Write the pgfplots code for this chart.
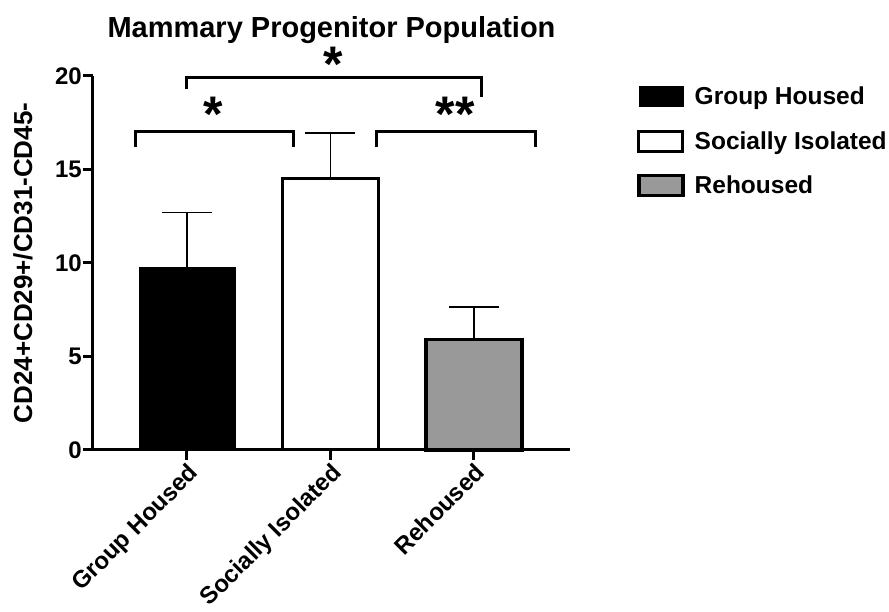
\documentclass[border=0pt]{standalone}
\usepackage{pgfplots}
\pgfplotsset{compat=1.18}
\usepackage{fontspec}
\setmainfont{Liberation Sans}
\definecolor{rhgray}{HTML}{999999}
\begin{document}
\begin{tikzpicture}
\useasboundingbox (-93pt,-162pt) rectangle (796pt,450pt);
\begin{axis}[
 scale only axis, width=477pt, height=374pt,
 xmin=-0.655, xmax=2.67, ymin=0, ymax=20,
 axis x line=bottom, axis y line=left,
 axis line style={-, line width=3pt},
 ytick={0,5,10,15,20},
 xtick={0,1,2},
 xticklabels={Group Housed, Socially Isolated, Rehoused},
 tick style={line width=3pt, black},
 major tick length=10pt,
 tick align=outside,
 xticklabel style={rotate=45, anchor=north east, font=\bfseries\fontsize{24}{28}\selectfont, inner sep=1pt},
 yticklabel style={font=\bfseries\fontsize{24}{28}\selectfont, inner sep=1pt},
 /pgf/number format/assume math mode=true,
 ylabel={CD24+CD29+/CD31-CD45-},
 ylabel style={font=\bfseries\fontsize{26}{30}\selectfont},
 ylabel shift=18pt,
 title={Mammary Progenitor Population},
 title style={font=\bfseries\fontsize{29}{34}\selectfont, at={(0.5,1)}, anchor=south, yshift=23pt},
 clip=false,
 ybar, bar width=0.67, bar shift=0pt,
 legend image code/.code={\draw[#1] (0pt,-10pt) rectangle (44pt,10pt);},
 legend style={at={(rel axis cs:1,1)}, anchor=north west, xshift=64pt, yshift=-7pt, draw=none, fill=none, font=\bfseries\fontsize{24.5}{29}\selectfont, row sep=21pt, column sep=8pt, nodes={inner sep=2pt}},
 legend cell align=left,
]
\addplot[fill=black, draw=black, line width=0.8pt,
  error bars/.cd, y dir=plus, y explicit,
  error bar style={line width=1.5pt, black},
  error mark options={rotate=90, line width=1.5pt, mark size=25pt}]
  coordinates {(0,9.78) +- (0,2.92)};
\addlegendentry{Group Housed}
\addplot[fill=white, draw=black, line width=3pt,
  error bars/.cd, y dir=plus, y explicit,
  error bar style={line width=1.5pt, black},
  error mark options={rotate=90, line width=1.5pt, mark size=25pt}]
  coordinates {(1,14.5) +- (0,2.45)};
\addlegendentry{Socially Isolated}
\addplot[fill=rhgray, draw=black, line width=3.5pt,
  error bars/.cd, y dir=plus, y explicit,
  error bar style={line width=1.5pt, black},
  error mark options={rotate=90, line width=1.5pt, mark size=25pt}]
  coordinates {(2,5.92) +- (0,1.72)};
\addlegendentry{Rehoused}
\draw[line width=3pt] (axis cs:-0.36,16.2) |- (axis cs:0.74,17.05) -- (axis cs:0.74,16.2);
\draw[line width=3pt] (axis cs:1.32,16.2) |- (axis cs:2.43,17.05) -- (axis cs:2.43,16.2);
\draw[line width=3pt] (axis cs:0.0,19.3) |- (axis cs:2.05,19.9) -- (axis cs:2.05,18.9);
\node[font=\bfseries\fontsize{50}{50}\selectfont, yshift=-10pt] at (axis cs:1.02,21.15) {*};
\node[font=\bfseries\fontsize{50}{50}\selectfont, yshift=-10pt] at (axis cs:0.18,18.5) {*};
\node[font=\bfseries\fontsize{50}{50}\selectfont, yshift=-10pt] at (axis cs:1.87,18.5) {**};
\end{axis}
\end{tikzpicture}
\end{document}
